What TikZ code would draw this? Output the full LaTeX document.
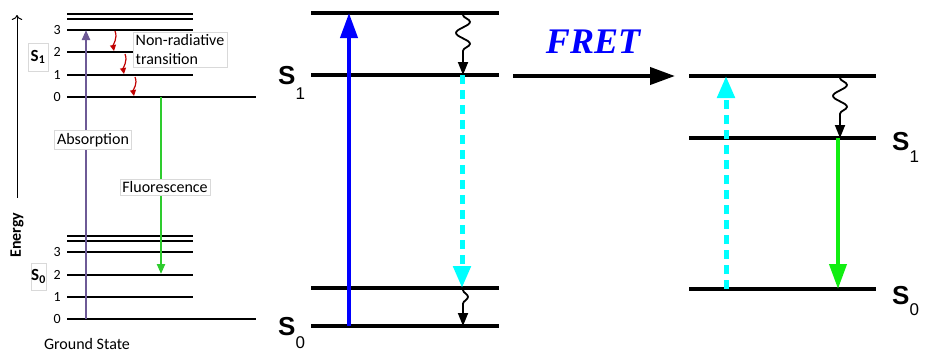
\documentclass[tikz,border=0pt]{standalone}
\usepackage{fontspec}
\setmainfont{Carlito}
\newfontfamily\arialfont{Liberation Sans}
\newfontfamily\timesfont{Liberation Serif}
\usetikzlibrary{arrows.meta, decorations.pathmorphing, positioning}
\definecolor{absorbviolet}{HTML}{6E5A96}
\definecolor{nonradred}{HTML}{C00000}
\definecolor{fluorgreen}{HTML}{2ECC2E}
\definecolor{emitgreen}{HTML}{11EE11}
\definecolor{fretblue}{HTML}{0000FF}
\definecolor{relaxcyan}{HTML}{00FFFF}
\definecolor{boxgray}{HTML}{D9D9D9}
%% state label: big bold S, subscript dropped by #2 pt
\newcommand{\slab}[2]{{\fontsize{26}{26}\arialfont\bfseries S}%
  \raisebox{-#2pt}{\fontsize{17}{17}\arialfont #1}}

\begin{document}
\begin{tikzpicture}[x=1pt, y=-1pt,
      %% Jablonski levels (left panel)
      vib/.style={line width=1.2pt},
      vibzero/.style={line width=2.6pt},
      %% donor / acceptor levels
      lvl/.style={line width=4pt},
      num/.style={font=\fontsize{14}{14}\selectfont, anchor=east, inner sep=0pt},
      tag/.style={draw=boxgray, fill=white, font=\fontsize{16}{19}\selectfont,
                  inner sep=2.5pt, align=left},
      thinarr/.style={line width=2.2pt, -{Triangle[length=10pt,width=8pt]}},
      nrarr/.style={nonradred, line width=1.2pt, -{Triangle[length=6pt,width=6pt]}},
      bigarr/.style={line width=4pt, -{Triangle[length=25pt,width=17pt]}},
      dasharr/.style={relaxcyan, line width=5pt, dash pattern=on 9pt off 6pt,
                      -{Triangle[length=22pt,width=17pt]}},
      wavy/.style={line width=1.8pt, decorate,
                   decoration={snake, amplitude=7pt, segment length=22pt,
                               pre length=2pt, post length=14pt},
                   -{Triangle[length=13pt,width=10pt]}},
      slabel/.style={anchor=base west, inner sep=0pt},
    ]
    \useasboundingbox (0,0) rectangle (927,354);

    %% ── Left panel: Jablonski diagram ───────────────────────────────────
    \foreach \y in {14,19,30,52,75,236,241,252,275,297}
      \draw[vib] (67,\y) -- (193,\y);
    \foreach \y in {97,319}
      \draw[vibzero] (67,\y) -- (256,\y);
    \foreach \y/\n in {30/3,52/2,75/1,97/0,252/3,275/2,297/1,319/0}
      \node[num] (n-\y) at (61,\y) {\n};

    \node[tag, font=\fontsize{17}{17}\selectfont\bfseries, minimum width=20pt,
          minimum height=28pt, inner sep=0.5pt] (s1tag) at (38,57) {S\textsubscript{1}};
    \node[tag, font=\fontsize{17}{17}\selectfont\bfseries, minimum width=12pt,
          minimum height=27pt, inner sep=0.5pt] (s0tag) at (38.5,276.5) {S\textsubscript{0}};

    \node[font=\fontsize{16}{16}\selectfont\bfseries, rotate=90] (energy) at (17,235) {Energy};
    \coordinate (etop) at (17,15);
    \draw[line width=1pt, -{To[length=5pt]}] ([yshift=11pt]energy.east) -- (etop);

    %% absorption and fluorescence
    \coordinate (gs) at (86,319);
    \coordinate (v3) at (86,30);
    \draw[thinarr, absorbviolet] (gs) -- (v3);
    \node[tag] (abs) at (93,140) {Absorption};

    \coordinate (f0) at (161,97);
    \coordinate (f2) at (161,274);
    \draw[thinarr, fluorgreen] (f0) -- (f2);
    \node[tag] (fluo) at (165,187) {Fluorescence};

    %% cascade down the S1 ladder
    \foreach \i/\x/\ya/\yb in {1/115/31/51, 2/125/54/74, 3/135/77/96} {
      \coordinate (nr\i a) at (\x,\ya);
      \coordinate (nr\i b) at (\x-1,\yb);
      \draw[nrarr] (nr\i a) .. controls +(3,7) and +(-1,-6) .. (nr\i b);
    }
    \node[tag, anchor=north west] (nrt) at (133,32) {Non-radiative\\transition};

    \node[font=\fontsize{16}{16}\selectfont] (gstate) at (87,344) {Ground State};

    %% ── Middle panel: donor ─────────────────────────────────────────────
    \foreach \y in {13,75,288,326}
      \draw[lvl] (311,\y) -- (499,\y);
    \node[slabel] (ds1lab) at (278,84) {\slab{1}{15}};
    \node[slabel] (ds0lab) at (278,335) {\slab{0}{13}};

    \coordinate (dlow)  at (349,326);
    \coordinate (dhigh) at (349,13);
    \draw[bigarr, fretblue] (dlow) -- (dhigh);

    \coordinate (w1a) at (463,13);
    \coordinate (w1b) at (463,75);
    \draw[wavy] (w1a) -- (w1b);

    \coordinate (ds1) at (462,75);
    \coordinate (ds0) at (462,288);
    \draw[dasharr] (ds1) -- (ds0);

    \coordinate (w2a) at (463,288);
    \coordinate (w2b) at (463,326);
    \draw[wavy, decoration={amplitude=5pt, segment length=22pt, post length=14pt}]
      (w2a) -- (w2b);

    %% ── Energy transfer ─────────────────────────────────────────────────
    \coordinate (fa) at (513,76);
    \coordinate (fb) at (675,76);
    \draw[bigarr] (fa) -- (fb);
    \node[font=\fontsize{36}{36}\timesfont\bfseries\itshape, text=fretblue,
          inner sep=0pt] (fret) at (593,41.5) {FRET};

    %% ── Right panel: acceptor ───────────────────────────────────────────
    \foreach \y in {76,138,289}
      \draw[lvl] (689,\y) -- (876,\y);
    \node[slabel] (as1lab) at (892,150) {\slab{1}{12}};
    \node[slabel] (as0lab) at (892,304) {\slab{0}{11}};

    \coordinate (alow)  at (726,289);
    \coordinate (ahigh) at (726,76);
    \draw[dasharr] (alow) -- (ahigh);

    \coordinate (w3a) at (840,76);
    \coordinate (w3b) at (840,138);
    \draw[wavy] (w3a) -- (w3b);

    \coordinate (as1) at (838,138);
    \coordinate (as0) at (838,289);
    \draw[bigarr, emitgreen] (as1) -- (as0);
  \end{tikzpicture}
\end{document}
